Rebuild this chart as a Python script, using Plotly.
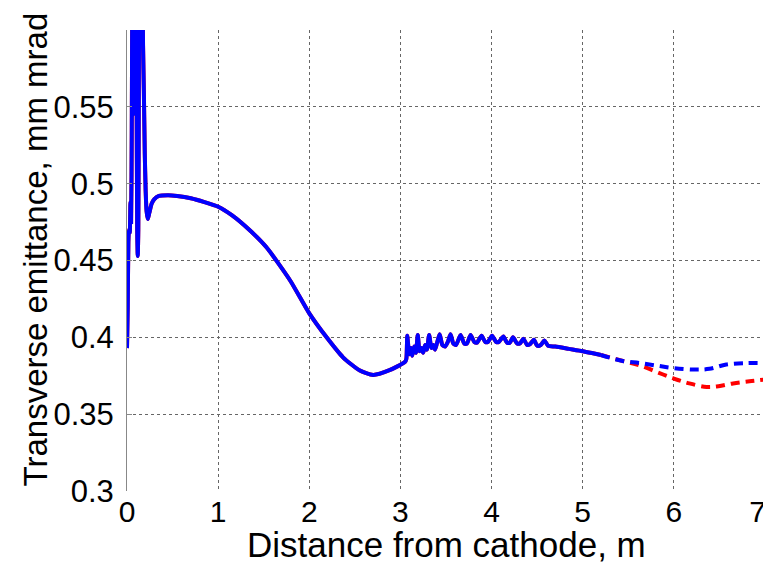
import plotly.graph_objects as go

# Shared part of both curves (solid), distance in m, emittance in mm mrad
common_x = [0.000, 0.008, 0.015, 0.022, 0.030, 0.038, 0.045, 0.052, 0.058, 0.064, 0.070, 0.076,
            0.082, 0.090, 0.098, 0.105, 0.112, 0.118, 0.124, 0.130, 0.136, 0.145, 0.152, 0.160,
            0.168, 0.176, 0.185, 0.195, 0.205, 0.215, 0.228, 0.245, 0.27, 0.30, 0.35, 0.45,
            0.55, 0.70, 0.85, 1.00, 1.15, 1.35, 1.53, 1.79, 2.00, 2.19, 2.37, 2.55, 2.70, 2.88,
            3.05, 3.065, 3.075, 3.09, 3.10, 3.115, 3.13, 3.15, 3.17, 3.19, 3.21, 3.23, 3.25,
            3.27, 3.29, 3.315, 3.34, 3.36, 3.38, 3.40, 3.43, 3.46, 3.49, 3.52, 3.55, 3.58, 3.61,
            3.66, 3.70, 3.73, 3.77, 3.81, 3.84, 3.89, 3.93, 3.96, 4.005, 4.05, 4.08, 4.13, 4.17,
            4.20, 4.235, 4.28, 4.31, 4.35, 4.39, 4.42, 4.465, 4.50, 4.54, 4.58, 4.62, 4.70,
            4.85, 5.00, 5.10, 5.20]
common_y = [0.393, 0.420, 0.462, 0.470, 0.468, 0.488, 0.475, 0.530, 0.620, 0.545, 0.650, 0.560,
            0.640, 0.600, 0.630, 0.560, 0.470, 0.453, 0.470, 0.560, 0.640, 0.620, 0.660, 0.600,
            0.640, 0.590, 0.560, 0.520, 0.495, 0.482, 0.477, 0.481, 0.487, 0.490, 0.492, 0.4925,
            0.492, 0.4905, 0.488, 0.485, 0.4795, 0.4695, 0.4586, 0.437, 0.4156, 0.400, 0.387,
            0.3786, 0.3755, 0.3786,
            0.384, 0.386, 0.401, 0.392, 0.389, 0.393, 0.388, 0.394, 0.390, 0.4015, 0.391, 0.393,
            0.390, 0.395, 0.392, 0.4015, 0.393, 0.395, 0.392, 0.396, 0.402, 0.395, 0.394, 0.397,
            0.402, 0.396, 0.395, 0.4015, 0.396, 0.396, 0.4015, 0.397, 0.3965, 0.401, 0.397,
            0.397, 0.401, 0.397, 0.397, 0.4005, 0.3965, 0.3965, 0.400, 0.396, 0.396, 0.399,
            0.395, 0.3955, 0.3985, 0.3945, 0.395, 0.398, 0.3945, 0.394, 0.3925, 0.391, 0.3898,
            0.3885]

# Dashed tails
blue_tail_x = [5.20, 5.44, 5.625, 5.81, 6.00, 6.25, 6.39, 6.575, 6.795, 7.00]
blue_tail_y = [0.3885, 0.3846, 0.3833, 0.3816, 0.3800, 0.3790, 0.3795, 0.3823, 0.3833, 0.3833]
red_tail_x = [5.20, 5.44, 5.625, 5.81, 6.00, 6.17, 6.36, 6.47, 6.65, 6.83, 7.00]
red_tail_y = [0.3885, 0.3846, 0.3818, 0.3775, 0.3732, 0.3700, 0.3677, 0.3680, 0.3700, 0.3714, 0.3725]

x_ticks = [0, 1, 2, 3, 4, 5, 6, 7]
x_tick_text = ["0", "1", "2", "3", "4", "5", "6", "7\u2002"]  # en space keeps the last label inside the page
y_ticks = [0.3, 0.35, 0.4, 0.45, 0.5, 0.55]
y_tick_text = ["0.3", "0.35", "0.4", "0.45", "0.5", "0.55"]
x_title = "Distance from cathode, m"
y_title = "Transverse emittance, mm mrad"

RED = "rgb(255,0,0)"
BLUE = "rgb(0,0,255)"
LW = 4

fig = go.Figure()
fig.add_trace(go.Scatter(x=common_x, y=common_y, mode="lines",
                         line=dict(color=RED, width=LW, shape="spline", smoothing=0.6),
                         showlegend=False))
fig.add_trace(go.Scatter(x=red_tail_x, y=red_tail_y, mode="lines",
                         line=dict(color=RED, width=LW, dash="9px,6px", shape="spline"),
                         showlegend=False))
fig.add_trace(go.Scatter(x=common_x, y=common_y, mode="lines",
                         line=dict(color=BLUE, width=LW, shape="spline", smoothing=0.6),
                         showlegend=False))
fig.add_trace(go.Scatter(x=blue_tail_x, y=blue_tail_y, mode="lines",
                         line=dict(color=BLUE, width=LW, dash="9px,6px", shape="spline"),
                         showlegend=False))

font_family = "Liberation Sans, Arial, sans-serif"

# page body has an 8px margin: figure sized to fit the 771x564 window
fig.update_layout(
    width=763, height=556,
    margin=dict(l=119, r=6, t=22, b=73),
    paper_bgcolor="white", plot_bgcolor="white",
    font=dict(family=font_family, color="black", size=30),
    annotations=[
        dict(text=x_title, xref="paper", yref="paper", x=0.5, y=0,
             xanchor="center", yanchor="middle", yshift=-53, showarrow=False,
             font=dict(size=35)),
        dict(text=y_title, xref="paper", yref="paper", x=0, y=0.5,
             xanchor="center", yanchor="middle", xshift=-92, yshift=11,
             textangle=-90, showarrow=False, font=dict(size=33)),
    ],
)
fig.update_xaxes(
    range=[0, 7], tickvals=x_ticks, ticktext=x_tick_text,
    showgrid=True, gridcolor="#666", griddash="dot", gridwidth=1,
    showline=False, zeroline=False, ticks="", automargin=False,
    ticklabeloverflow="allow",
    tickfont=dict(size=30),
)
fig.update_yaxes(
    range=[0.3, 0.6], tickvals=y_ticks, ticktext=y_tick_text,
    showgrid=True, gridcolor="#666", griddash="dot", gridwidth=1,
    showline=True, linecolor="#888", linewidth=1, zeroline=False,
    ticks="inside", ticklen=5, tickcolor="#888", automargin=False,
    ticklabelstandoff=6, ticklabeloverflow="allow",
    tickfont=dict(size=31),
)

fig.write_html("out.html")
